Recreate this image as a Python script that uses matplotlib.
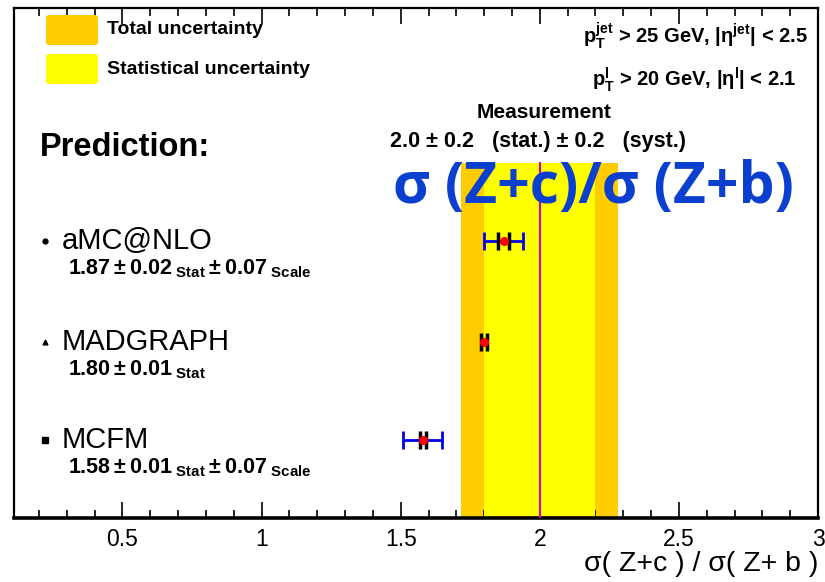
import matplotlib.pyplot as plt
from matplotlib.patches import FancyBboxPatch

W, H = 825, 582

# measurement
meas = 2.0
meas_stat = 0.2
meas_syst = 0.2
meas_tot = (meas_stat ** 2 + meas_syst ** 2) ** 0.5

# predictions
gen_names = ["aMC@NLO", "MADGRAPH", "MCFM"]
gen_vals = [1.87, 1.80, 1.58]
gen_stat = [0.02, 0.01, 0.01]
gen_scale = [0.07, None, 0.07]
gen_ypos = [0.543, 0.346, 0.153]
gen_mark = ["o", "^", "s"]

xticks = [0.5, 1, 1.5, 2, 2.5, 3]
xticklabels = ["0.5", "1", "1.5", "2", "2.5", "3"]

plt.rcParams["font.family"] = ["Liberation Sans", "DejaVu Sans"]
plt.rcParams["mathtext.fontset"] = "custom"
plt.rcParams["mathtext.rm"] = "Liberation Sans:bold"
plt.rcParams["mathtext.bf"] = "Liberation Sans:bold"
plt.rcParams["mathtext.it"] = "Liberation Sans:bold"


def fx(px):
    return px / W


def fy(py):
    return 1 - py / H


fig = plt.figure(figsize=(W / 100, H / 100), dpi=100)
ax = fig.add_axes([fx(14), fy(518), fx(818) - fx(14), fy(8) - fy(518)])
ax.set_xlim(0.11, 3.0)
ax.set_ylim(0, 1)

# uncertainty bands
band_top = 0.696
ax.fill_between([meas - meas_tot, meas + meas_tot], 0, band_top, color="#ffcc00", lw=0, zorder=1)
ax.fill_between([meas - meas_stat, meas + meas_stat], 0, band_top, color="#ffff00", lw=0, zorder=2)
ax.plot([meas, meas], [0, band_top], color="#cc00cc", lw=1.5, zorder=3)

for i in range(3):
    y = gen_ypos[i]
    if gen_scale[i] is not None:
        ax.errorbar(gen_vals[i], y, xerr=gen_scale[i], fmt="none", ecolor="#0000ee",
                    elinewidth=2, capsize=6.5, capthick=2, zorder=4)
        ax.errorbar(gen_vals[i], y, xerr=gen_stat[i], fmt="none", ecolor="black",
                    elinewidth=0, capsize=6.5, capthick=2.5, zorder=5)
    else:
        ax.errorbar(gen_vals[i], y, xerr=gen_stat[i], fmt="none", ecolor="black",
                    elinewidth=2, capsize=6.5, capthick=2.5, zorder=5)
    ax.plot(gen_vals[i], y, "o", color="#ff0000", ms=5.5, zorder=6)
    ax.plot(0.222, y, gen_mark[i], color="black", ms=3.5 if i != 2 else 4, zorder=6)

ax.set_yticks([])
ax.set_xticks(xticks)
ax.set_xticklabels(xticklabels, fontsize=16.5)
ax.set_xticks([t / 10 for t in range(2, 30) if t % 5], minor=True)
ax.tick_params(axis="x", which="major", direction="in", length=11.5, width=1.2, top=True, pad=7)
ax.tick_params(axis="x", which="minor", direction="in", length=5.5, width=1.2, top=True)
for s in ax.spines.values():
    s.set_linewidth(1.6)
ax.spines["bottom"].set_linewidth(2.6)

fig.text(fx(818), fy(564), r"σ( Z+c ) / σ( Z+ b )", fontsize=20.5,
         ha="right", va="center")

# legend boxes
for (y0, col, lab) in [(15, "#ffcc00", "Total uncertainty"), (54, "#ffff00", "Statistical uncertainty")]:
    fig.patches.append(FancyBboxPatch((fx(46), fy(y0 + 30)), fx(98) - fx(46), fy(y0) - fy(y0 + 30),
                                      boxstyle="round,pad=0,rounding_size=0.004",
                                      transform=fig.transFigure, fc=col, ec="none"))
    fig.text(fx(107), fy(y0 + 15), lab, fontsize=14, fontweight="bold", ha="left", va="center")

fig.text(fx(808), fy(36), r"$\mathregular{p_{T}^{jet}}$ > 25 GeV, |η$^{\mathregular{jet}}$| < 2.5",
         fontsize=14.5, fontweight="bold", ha="right", va="center")
fig.text(fx(797), fy(80), r"$\mathregular{p_{T}^{l}}$ > 20 GeV, |η$^{\mathregular{l}}$| < 2.1",
         fontsize=14.5, fontweight="bold", ha="right", va="center")

fig.text(fx(40), fy(147), "Prediction:", fontsize=23.5, fontweight="bold", ha="left", va="center")
fig.text(fx(544), fy(112), "Measurement", fontsize=15, fontweight="bold", ha="center", va="center")
fig.text(fx(538), fy(141),
         f"{meas:.1f} ± {meas_stat:.1f}   (stat.) ± {meas_syst:.1f}   (syst.)",
         fontsize=15.5, fontweight="bold", ha="center", va="center")

fig.text(fx(593), fy(188), "σ (Z+c)/σ (Z+b)", family=["Open Sans", "DejaVu Sans"],
         fontsize=41, fontweight="bold", color="#0a3fd0", ha="center", va="center")

# generator labels
for i in range(3):
    yl = 518 - gen_ypos[i] * 510
    fig.text(fx(62), fy(yl), gen_names[i], fontsize=21, ha="left", va="center")
    s = rf"$\mathbf{{{gen_vals[i]:.2f}}} \pm \mathbf{{{gen_stat[i]:.2f}}}_{{\ \mathbf{{Stat}}}}"
    if gen_scale[i] is not None:
        s += rf" \pm \mathbf{{{gen_scale[i]:.2f}}}_{{\ \mathbf{{Scale}}}}"
    s += "$"
    fig.text(fx(68), fy(yl + 28), s, fontsize=15.5, ha="left", va="center")

fig.savefig("out.png", dpi=100)
